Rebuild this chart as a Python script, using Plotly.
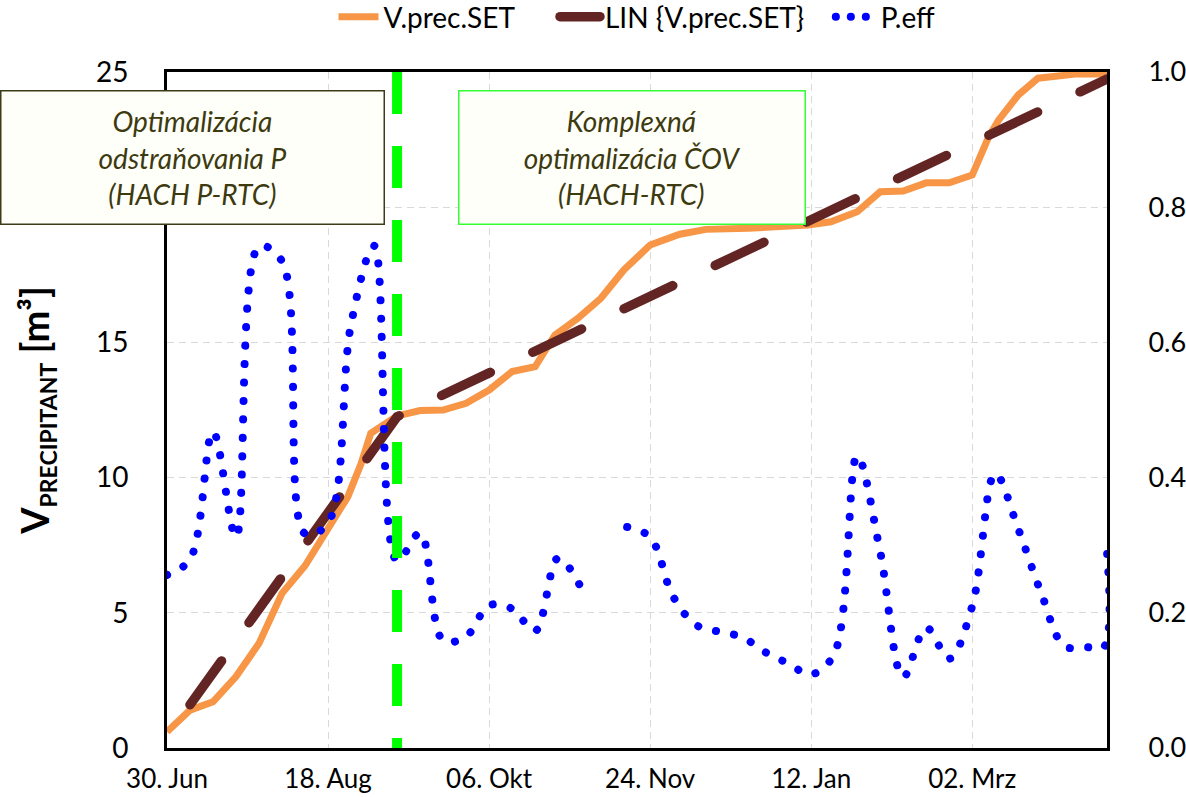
import plotly.graph_objects as go

# ---------------- data ----------------
vprec_dates = ["2014-06-30", "2014-07-07", "2014-07-14", "2014-07-21", "2014-07-28", "2014-08-04",
               "2014-08-11", "2014-08-18", "2014-08-24", "2014-08-28", "2014-08-31", "2014-09-08",
               "2014-09-15", "2014-09-22", "2014-09-29", "2014-10-06", "2014-10-13", "2014-10-20",
               "2014-10-26", "2014-11-02", "2014-11-09", "2014-11-16", "2014-11-24", "2014-12-03",
               "2014-12-11", "2014-12-24", "2015-01-11", "2015-01-18", "2015-01-26", "2015-02-02",
               "2015-02-09", "2015-02-16", "2015-02-23", "2015-03-02", "2015-03-07", "2015-03-10",
               "2015-03-16", "2015-03-22", "2015-03-30", "2015-04-03", "2015-04-12"]
vprec_values = [0.6, 1.4, 1.71, 2.64, 3.87, 5.72,
                6.74, 8.06, 9.29, 10.5, 11.64, 12.28,
                12.48, 12.5, 12.75, 13.24, 13.92, 14.1,
                15.27, 15.89, 16.63, 17.68, 18.6, 19.0,
                19.18, 19.22, 19.34, 19.46, 19.83, 20.57,
                20.6, 20.9, 20.9, 21.19, 22.6, 23.22,
                24.15, 24.77, 24.89, 24.93, 24.93]

lin_dates = ["2014-07-07", "2014-09-08", "2015-04-12"]
lin_values = [1.6, 12.25, 24.74]

peff_dates = ["2014-06-30", "2014-07-07", "2014-07-14", "2014-07-21", "2014-07-28", "2014-08-04",
              "2014-08-11", "2014-08-18", "2014-08-25", "2014-09-01", "2014-09-08", "2014-09-15",
              "2014-09-22", "2014-09-29", "2014-10-06", "2014-10-13", "2014-10-20", "2014-10-27",
              "2014-11-03", "2014-11-10", "2014-11-17", "2014-11-24", "2014-12-01", "2014-12-08",
              "2014-12-15", "2014-12-22", "2014-12-29", "2015-01-05", "2015-01-12", "2015-01-19",
              "2015-01-26", "2015-02-02", "2015-02-09", "2015-02-16", "2015-02-23", "2015-03-02",
              "2015-03-09", "2015-03-16", "2015-03-23", "2015-03-30", "2015-04-06", "2015-04-11",
              "2015-04-12"]
peff_values = [0.256, 0.279, 0.468, 0.312, 0.742, 0.72,
               0.317, 0.333, 0.627, 0.743, 0.277, 0.318,
               0.159, 0.165, 0.211, 0.206, 0.173, 0.281,
               0.237, None, 0.327, 0.312, 0.224, 0.182,
               0.172, 0.164, 0.142, 0.125, 0.109, 0.139,
               0.432, 0.29, 0.105, 0.178, 0.132, 0.21,
               0.406, 0.324, 0.229, 0.151, 0.149, 0.149,
               0.29]

switch_date = "2014-09-08"
x_range = ["2014-06-30", "2015-04-12"]
x_tick_dates = ["2014-06-30", "2014-08-18", "2014-10-06", "2014-11-24", "2015-01-12", "2015-03-02"]
x_tick_text = ["30. Jun", "18. Aug", "06. Okt", "24. Nov", "12. Jan", "02. Mrz"]
y1_ticks = [0, 5, 10, 15, 20, 25]
y2_ticks = [0.0, 0.2, 0.4, 0.6, 0.8, 1.0]

series_names = ["V.prec.SET", "LIN {V.prec.SET}", "P.eff"]
box1_text = "<i>Optimalizácia<br>odstraňovania P<br>(HACH P-RTC)</i>"
box2_text = "<i>Komplexná<br>optimalizácia ČOV<br>(HACH-RTC)</i>"

# ---------------- figure ----------------
FONT = "Lato"
ORANGE = "#F79646"
MAROON = "#632523"
BLUE = "#0000FF"
OLIVE = "#3d3a10"
NB = "\u00a0"  # spacing between legend entries

fig = go.Figure()
fig.add_trace(go.Scatter(x=vprec_dates, y=vprec_values, name=series_names[0] + NB * 5, mode="lines",
                         line=dict(color=ORANGE, width=7), yaxis="y"))
fig.add_trace(go.Scatter(x=lin_dates, y=lin_values, name=series_names[1] + NB * 3, mode="lines",
                         line=dict(color=MAROON, width=9.5, dash="63px,37px"), yaxis="y"))
fig.add_trace(go.Scatter(x=peff_dates, y=peff_values, name=series_names[2], mode="lines",
                         line=dict(color=BLUE, width=8, dash="dot", shape="spline", smoothing=1),
                         connectgaps=False, yaxis="y2"))

fig.add_shape(type="line", xref="x", yref="paper", x0=switch_date, x1=switch_date, y0=1, y1=0,
              line=dict(color="#00FF00", width=10, dash="42px,32px"), layer="above")

W, H = 1186, 797
L, R, T, B = 167, 79, 72, 49
pw, ph = W - L - R, H - T - B


def px_x(px):
    return (px - L) / pw


def px_y(py):
    return (H - B - py) / ph


fig.add_annotation(text=box1_text, xref="paper", yref="paper", x=px_x(0), y=px_y(90),
                   xanchor="left", yanchor="top", width=382, height=132, showarrow=False,
                   bgcolor="#fffffa", bordercolor="#3d3a18", borderwidth=1.5, borderpad=0,
                   font=dict(family=FONT, size=28, color=OLIVE), align="center", valign="middle")
fig.add_annotation(text=box2_text, xref="paper", yref="paper", x=px_x(458), y=px_y(90),
                   xanchor="left", yanchor="top", width=345, height=132, showarrow=False,
                   bgcolor="#fffffa", bordercolor="#33ff33", borderwidth=1.5, borderpad=0,
                   font=dict(family=FONT, size=28, color=OLIVE), align="center", valign="middle")

grid = dict(showgrid=True, gridcolor="#d9d9d9", gridwidth=1.3, griddash="7px,5px")

fig.update_layout(
    width=W, height=H,
    margin=dict(l=L, r=R, t=T, b=B, autoexpand=False),
    paper_bgcolor="white", plot_bgcolor="white",
    font=dict(family=FONT, color="black"),
    showlegend=True,
    legend=dict(orientation="h", x=0.5, xanchor="center", y=px_y(17), yanchor="middle",
                font=dict(family=FONT, size=28, color="black"), bgcolor="rgba(0,0,0,0)",
                itemwidth=40),
    xaxis=dict(type="date", range=x_range, tickmode="array", tickvals=x_tick_dates,
               ticktext=x_tick_text, tickfont=dict(size=26), showline=True, linecolor="black",
               linewidth=3, mirror=True, ticks="", zeroline=False, ticklabelstandoff=6, **grid),
    yaxis=dict(range=[0, 25], tickmode="array", tickvals=y1_ticks, tickfont=dict(size=28),
               showline=True, linecolor="black", linewidth=3, mirror=True, ticks="",
               zeroline=False, ticklabelstandoff=30,
               title=dict(text="V<sub><span style=\"font-size:23px\">PRECIPITANT</span></sub> [m³]",
                          font=dict(family=FONT, size=38, color="black", weight="bold"),
                          standoff=35),
               **grid),
    yaxis2=dict(range=[0, 1], overlaying="y", side="right", tickmode="array", tickvals=y2_ticks,
                tickformat=".1f", tickfont=dict(size=27), showline=True, linecolor="black",
                linewidth=3, ticks="", showgrid=False, zeroline=False, ticklabelstandoff=33),
)

post = """
document.body.style.margin = '0px';
document.body.style.overflow = 'hidden';
var gd = document.getElementById('{plot_id}');
function fixDots(){
  var paths = gd.querySelectorAll('path');
  paths.forEach(function(p){
    var s = p.style.stroke;
    var inLegend = !!p.closest('.legend');
    if (s === 'rgb(0, 0, 255)') {
      p.style.strokeLinecap = 'round';
      p.style.strokeDasharray = inLegend ? '0.1px,14.9px' : '0.1px,18.3px';
    } else if (s === 'rgb(99, 37, 35)') {
      p.style.strokeLinecap = 'round';
      if (!inLegend) { p.style.strokeDasharray = '54px,47px'; }
    }
  });
}
fixDots();
if (gd.on) { gd.on('plotly_afterplot', fixDots); }
"""

fig.write_html("out.html", post_script=post, config={"displayModeBar": False})
